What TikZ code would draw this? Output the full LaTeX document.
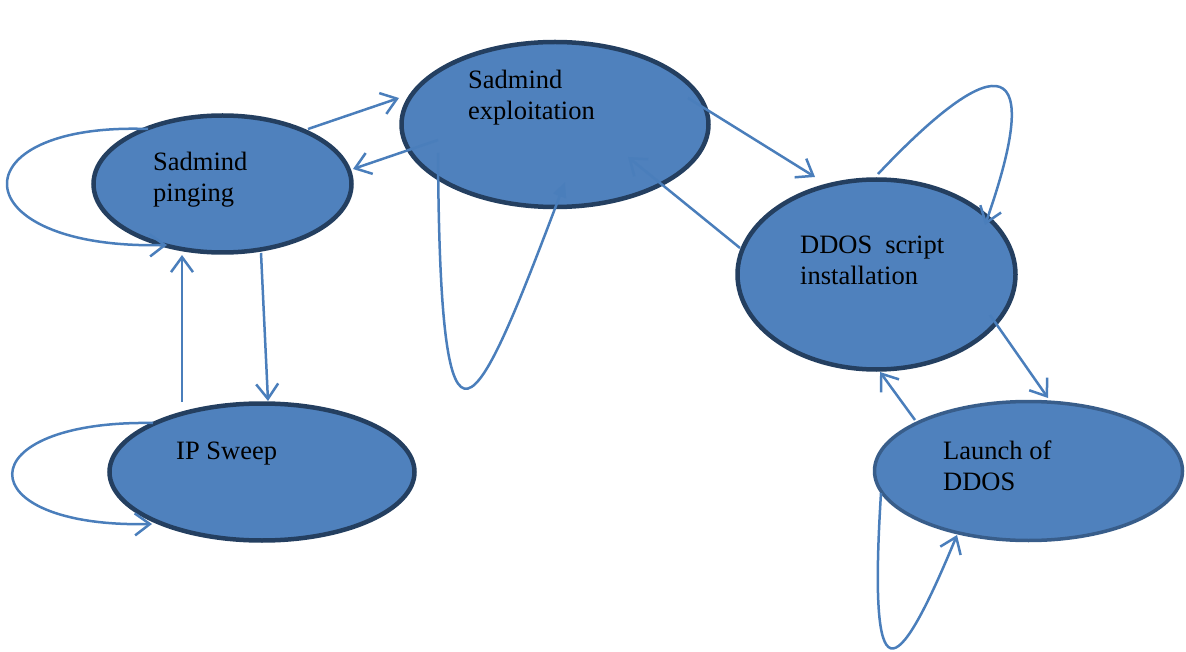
\documentclass[tikz,border=0pt]{standalone}
\usepackage{fontspec}
\setmainfont{Liberation Serif}
\usetikzlibrary{arrows.meta,calc,shapes.geometric}
\definecolor{stfill}{HTML}{4F81BD}
\definecolor{stborder}{HTML}{243F60}
\definecolor{stborderb}{HTML}{385D8A}
\definecolor{arr}{HTML}{4A7EBB}
\begin{document}
\begin{tikzpicture}[x=1pt,y=-1pt,
  state/.style={ellipse,draw=stborder,fill=stfill,line width=4.5pt,inner sep=0pt,outer sep=0pt},
  lbl/.style={anchor=base west,inner sep=0pt,align=left,font=\fontsize{26.5}{31}\selectfont,text=black},
  conn/.style={draw=arr,line width=2.5pt,-{Straight Barb[length=15pt,width=22pt]}},
  connf/.style={draw=arr,line width=2.5pt,-{Triangle[length=15pt,width=13pt]}}]
\useasboundingbox (0,0) rectangle (1186,652);
% states
\node[state,minimum width=258pt,minimum height=137pt] (ping) at (222.5,184) {};
\node[state,minimum width=307pt,minimum height=165pt] (expl) at (555,124.5) {};
\node[state,minimum width=278pt,minimum height=190pt] (ddos) at (876.5,274.5) {};
\node[state,minimum width=305pt,minimum height=137pt] (ip) at (262,472) {};
\node[state,draw=stborderb,line width=3.5pt,minimum width=308pt,minimum height=139pt] (launch) at (1028.5,471) {};
% labels (base anchor = last line's baseline)
\node[lbl] (tping) at (153,202) {Sadmind\\pinging};
\node[lbl] (texpl) at (468,120) {Sadmind\\exploitation};
\node[lbl] (tddos) at (800,285) {DDOS\hspace{13pt}script\\installation};
\node[lbl] (tip) at (176,459) {IP Sweep};
\node[lbl] (tlaunch) at (943,490) {Launch of\\DDOS};
% connectors
\draw[conn] ($(ping)+(-74.5,-55)$) .. controls (-45,122) and (-40,250) .. ($(ping)+(-55.5,61)$);
\draw[conn] ($(ping)+(85.5,-55)$) -- ($(expl)+(-156,-26.5)$);
\draw[conn] ($(expl)+(-117,15.5)$) -- ($(ping)+(130.5,-15)$);
\draw[conn] ($(ping)+(38.5,69)$) -- ($(ip)+(6,-71)$);
\draw[conn] ($(ip)+(-80,-70)$) -- ($(ping)+(-40.5,71)$);
\draw[conn] ($(ip)+(-109,-49)$) .. controls (-34,420) and (-34,528) .. ($(ip)+(-110,52)$);
\draw[connf] ($(expl)+(-117,28.5)$) .. controls (440,500) and (475,420) .. ($(expl)+(10,57.5)$);
\draw[conn] ($(expl)+(133,-26.5)$) -- ($(ddos)+(-61.5,-97.5)$);
\draw[conn] ($(ddos)+(-136.5,-26.5)$) -- ($(expl)+(73,32.5)$);
\draw[conn] ($(ddos)+(1.5,-100.5)$) .. controls (1000,45) and (1045,55) .. ($(ddos)+(108.5,-49.5)$);
\draw[conn] ($(ddos)+(113.5,40.5)$) -- ($(launch)+(19.5,-73)$);
\draw[conn] ($(launch)+(-113.5,-51)$) -- ($(ddos)+(3.5,97.5)$);
\draw[conn] ($(launch)+(-147.5,22)$) .. controls (868,700) and (895,685) .. ($(launch)+(-71.5,64)$);
\end{tikzpicture}
\end{document}
